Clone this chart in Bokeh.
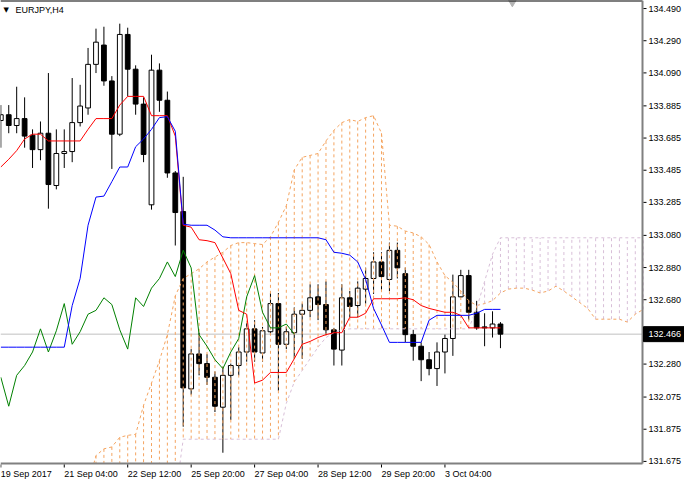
import math
from bokeh.plotting import figure
from bokeh.models import Range1d, Span, Label, ColumnDataSource
from bokeh.core.properties import value
from bokeh.embed import file_html
from bokeh.resources import INLINE

symbol = "EURJPY,H4"

# H4 candles (bar index 0 = first visible bar)
opens = [133.794, 133.830, 133.763, 133.806, 133.703, 133.613, 133.715, 133.390, 133.589, 133.601,
         133.781, 133.872, 134.143, 134.263, 134.040, 133.709, 134.329, 134.113, 133.896, 133.270,
         134.107, 133.920, 133.468, 133.228, 132.126, 132.343, 132.283, 132.198, 132.012, 132.210,
         132.271, 132.355, 132.499, 132.349, 132.481, 132.656, 132.403, 132.475, 132.590, 132.614,
         132.698, 132.650, 132.493, 132.367, 132.692, 132.644, 132.746, 132.812, 132.915, 132.806,
         132.987, 132.842, 132.463, 132.391, 132.307, 132.252, 132.355, 132.439, 132.698, 132.830,
         132.602, 132.511, 132.505, 132.529]
highs = [133.890, 133.890, 134.004, 133.938, 133.739, 133.788, 134.089, 133.739, 133.739, 134.058,
         134.016, 134.245, 134.365, 134.377, 134.070, 134.396, 134.371, 134.137, 133.938, 134.203,
         134.149, 133.974, 133.480, 133.444, 132.373, 132.475, 132.343, 132.234, 132.264, 132.283,
         132.385, 132.535, 132.553, 132.511, 132.722, 132.722, 132.511, 132.632, 132.656, 132.776,
         132.776, 132.794, 132.505, 132.776, 132.734, 132.794, 132.879, 132.975, 132.975, 133.035,
         133.035, 132.880, 132.493, 132.415, 132.355, 132.415, 132.463, 132.836, 132.866, 132.866,
         132.673, 132.596, 132.608, 132.541]
lows = [133.625, 133.715, 133.715, 133.625, 133.499, 133.547, 133.246, 133.366, 133.499, 133.535,
        133.757, 133.830, 134.089, 134.010, 133.493, 133.697, 133.944, 133.830, 133.535, 133.240,
        133.848, 133.438, 133.017, 131.891, 132.090, 132.210, 132.150, 131.982, 131.729, 131.933,
        132.210, 132.295, 132.295, 132.295, 132.463, 132.114, 132.373, 132.313, 132.313, 132.571,
        132.553, 132.463, 132.271, 132.271, 132.571, 132.571, 132.656, 132.716, 132.734, 132.734,
        132.812, 132.415, 132.301, 132.174, 132.210, 132.144, 132.222, 132.331, 132.692, 132.553,
        132.493, 132.391, 132.445, 132.379]
closes = [133.830, 133.763, 133.806, 133.697, 133.613, 133.715, 133.396, 133.589, 133.601, 133.781,
          133.884, 134.143, 134.281, 134.040, 133.709, 134.329, 134.113, 133.896, 133.583, 134.107,
          133.920, 133.468, 133.222, 132.132, 132.343, 132.283, 132.198, 132.018, 132.210, 132.271,
          132.355, 132.499, 132.355, 132.487, 132.656, 132.403, 132.481, 132.590, 132.614, 132.692,
          132.650, 132.493, 132.373, 132.692, 132.638, 132.752, 132.812, 132.915, 132.824, 132.987,
          132.878, 132.463, 132.391, 132.307, 132.252, 132.355, 132.439, 132.698, 132.830, 132.602,
          132.505, 132.505, 132.529, 132.466]

# Ichimoku lines
tenkan = [133.505, 133.553, 133.607, 133.679, 133.709, 133.709, 133.667, 133.667, 133.667, 133.667,
          133.667, 133.739, 133.806, 133.806, 133.806, 133.890, 133.944, 133.944, 133.944, 133.824,
          133.824, 133.824, 133.697, 133.143, 133.131, 133.053, 133.047, 133.035, 132.939, 132.842,
          132.614, 132.590, 132.162, 132.180, 132.228, 132.228, 132.228, 132.313, 132.403, 132.421,
          132.445, 132.463, 132.475, 132.475, 132.571, 132.571, 132.596, 132.686, 132.686, 132.686,
          132.686, 132.692, 132.680, 132.644, 132.626, 132.614, 132.602, 132.602, 132.583, 132.505,
          132.505, 132.505, 132.505, 132.505]
kijun = [132.385, 132.385, 132.385, 132.385, 132.385, 132.385, 132.385, 132.385, 132.385, 132.644,
         132.812, 133.143, 133.318, 133.324, 133.414, 133.505, 133.505, 133.631, 133.679, 133.739,
         133.812, 133.818, 133.727, 133.149, 133.143, 133.143, 133.143, 133.113, 133.071, 133.065,
         133.065, 133.065, 133.065, 133.065, 133.065, 133.065, 133.065, 133.065, 133.065, 133.065,
         133.065, 133.053, 132.975, 132.969, 132.957, 132.915, 132.806, 132.626, 132.523, 132.415,
         132.415, 132.415, 132.415, 132.415, 132.553, 132.583, 132.583, 132.583, 132.583, 132.583,
         132.596, 132.620, 132.620, 132.620]
chikou_shift = 26

# Senkou spans as displayed (first displayed bar = cloud_first_bar)
cloud_first_bar = 11
span_a = [131.530, 131.711, 131.753, 131.765, 131.825, 131.837, 131.843, 132.024, 132.162, 132.301,
          132.463, 132.704, 132.812, 132.842, 132.872, 132.915, 132.945, 132.975, 133.017, 133.035,
          133.035, 133.029, 133.023, 133.071, 133.161, 133.264, 133.487, 133.565, 133.577, 133.589,
          133.667, 133.733, 133.781, 133.800, 133.788, 133.812, 133.824, 133.715, 133.143, 133.137,
          133.107, 133.095, 133.071, 133.023, 132.915, 132.830, 132.788, 132.734, 132.674, 132.644,
          132.656, 132.674, 132.722, 132.746, 132.752, 132.752, 132.740, 132.722, 132.734, 132.764,
          132.734, 132.698, 132.662, 132.626, 132.559, 132.559, 132.559, 132.559, 132.541, 132.590,
          132.620]
span_b = [131.400, 131.400, 131.400, 131.400, 131.400, 131.400, 131.400, 131.400, 131.400, 131.400,
          131.400, 131.450, 131.813, 131.813, 131.813, 131.813, 131.813, 131.813, 131.813, 131.813,
          131.813, 131.813, 131.813, 131.813, 131.813, 132.036, 132.168, 132.240, 132.313, 132.385,
          132.445, 132.475, 132.493, 132.499, 132.499, 132.499, 132.499, 132.499, 132.499, 132.499,
          132.499, 132.499, 132.499, 132.499, 132.499, 132.499, 132.499, 132.499, 132.499, 132.626,
          132.794, 132.963, 133.065, 133.065, 133.065, 133.065, 133.065, 133.065, 133.065, 133.065,
          133.065, 133.065, 133.065, 133.065, 133.065, 133.065, 133.065, 133.065, 133.065, 133.065,
          133.065]

x_tick_bars = [0, 8, 16, 24, 32, 40, 48, 56]
x_tick_labels = ["19 Sep 2017", "21 Sep 04:00", "22 Sep 12:00", "25 Sep 20:00",
                 "27 Sep 04:00", "28 Sep 12:00", "29 Sep 20:00", "3 Oct 04:00"]
y_tick_values = [134.490, 134.290, 134.090, 133.885, 133.685, 133.485, 133.285, 133.080,
                 132.880, 132.680, 132.280, 132.075, 131.875, 131.675]

FONT = "Liberation Sans"
ORANGE = "#F4A460"
THISTLE = "#D8BFD8"
AXIS_GREY = "#808080"

# chart area (price window) and its size in pixels
x_start, x_end = -0.04, 80.91
y_start, y_end = 131.662, 134.540
W, H = 684, 483            # figure size
CW, CH = 642, 463          # chart area inside it (axes drawn to the right / below)
px_x = (x_end - x_start) / CW
px_y = (y_end - y_start) / CH
full_x_end = x_start + W * px_x
full_y_start = y_end - H * px_y

p = figure(width=W, height=H,
           x_range=Range1d(x_start, full_x_end), y_range=Range1d(full_y_start, y_end),
           output_backend="svg", toolbar_location=None, title=None,
           x_axis_type=None, y_axis_type=None,
           min_border_left=0, min_border_top=0, min_border_right=0, min_border_bottom=0)
p.grid.visible = False
p.outline_line_color = None
p.background_fill_color = "white"
p.border_fill_color = "white"


def clip_floor(xs, ys, floor):
    """Cut a polyline where it goes below the chart bottom."""
    ox, oy = [], []
    for i in range(len(xs)):
        inside = ys[i] >= floor
        if i > 0 and (ys[i - 1] >= floor) != inside:
            t = (floor - ys[i - 1]) / (ys[i] - ys[i - 1])
            ox.append(xs[i - 1] + t * (xs[i] - xs[i - 1]))
            oy.append(floor)
        if inside:
            ox.append(xs[i]); oy.append(ys[i])
        else:
            ox.append(math.nan); oy.append(math.nan)
    return ox, oy


# current price line
last = closes[-1]
p.segment(x0=[x_start], y0=[last], x1=[x_end], y1=[last], line_color="#C0C0C0", line_width=1)

# candles
bars = list(range(len(closes)))
src = ColumnDataSource(dict(
    x=bars, low=lows, high=highs,
    top=[max(o, c) for o, c in zip(opens, closes)],
    bottom=[min(o, c) for o, c in zip(opens, closes)],
    fill=["white" if c >= o else "black" for o, c in zip(opens, closes)],
))
p.segment(x0="x", y0="low", x1="x", y1="high", line_color="black", line_width=1, source=src)
p.vbar(x="x", width=0.6, top="top", bottom="bottom", fill_color="fill", line_color="black",
       line_width=1, source=src)

# cloud hatch (vertical dotted bars between span A and span B)
cloud_bars = list(range(cloud_first_bar, cloud_first_bar + len(span_a)))
hx, ha, hb, hc = [], [], [], []
for x, a, b in zip(cloud_bars, span_a, span_b):
    if max(a, b) <= y_start:
        continue
    hx.append(x); ha.append(max(a, y_start)); hb.append(max(b, y_start))
    hc.append(ORANGE if a >= b else THISTLE)
p.segment(x0=hx, y0=ha, x1=hx, y1=hb, line_color=hc, line_width=1, line_dash="3 3")
ax_, ay_ = clip_floor(cloud_bars, span_a, y_start)
bx_, by_ = clip_floor(cloud_bars, span_b, y_start)
p.line(ax_, ay_, line_color=ORANGE, line_width=1, line_dash="3 3")
p.line(bx_, by_, line_color=THISTLE, line_width=1, line_dash="3 3")

# chikou, tenkan, kijun
p.line(bars[:-chikou_shift], closes[chikou_shift:], line_color="#008000", line_width=1)
p.line(bars, tenkan, line_color="#FF0000", line_width=1)
p.line(bars, kijun, line_color="#0000FF", line_width=1)

# chart shift marker
p.scatter([len(closes) + 0.5], [y_end], marker="inverted_triangle", size=11,
          fill_color="#B4B4B4", line_color="#B4B4B4")

# frame: top border, right price axis, bottom time axis
p.segment(x0=[x_start], y0=[y_end], x1=[x_end], y1=[y_end], line_color="black", line_width=2)
p.segment(x0=[x_end], y0=[y_start], x1=[x_end], y1=[y_end], line_color=AXIS_GREY, line_width=2)
p.segment(x0=[x_start], y0=[y_start], x1=[x_end], y1=[y_start], line_color=AXIS_GREY, line_width=2)

# price ticks and labels
p.segment(x0=[x_end + 1 * px_x] * len(y_tick_values), y0=y_tick_values,
          x1=[x_end + 4 * px_x] * len(y_tick_values), y1=y_tick_values,
          line_color="black", line_width=1)
p.text(x=[x_end + 6 * px_x] * len(y_tick_values), y=y_tick_values,
       text=[f"{v:.3f}" for v in y_tick_values],
       text_font=value(FONT), text_font_size="9px", text_color="black",
       text_align="left", text_baseline="middle")

# time ticks and labels (left-aligned at their tick)
p.segment(x0=x_tick_bars, y0=[y_start - 1 * px_y] * len(x_tick_bars),
          x1=x_tick_bars, y1=[y_start - 4 * px_y] * len(x_tick_bars),
          line_color="black", line_width=1)
p.text(x=x_tick_bars, y=[y_start - 10.5 * px_y] * len(x_tick_bars), text=x_tick_labels,
       text_font=value(FONT), text_font_size="9px", text_color="black",
       text_align="left", text_baseline="middle")

# last price box on the price axis
p.quad(left=[x_end + 1 * px_x], right=[full_x_end], top=[last + 7.5 * px_y],
       bottom=[last - 7.5 * px_y], fill_color="black", line_color="black")
p.text(x=[x_end + 6 * px_x], y=[last], text=[f"{last:.3f}"],
       text_font=value(FONT), text_font_size="9px", text_color="white",
       text_align="left", text_baseline="middle")

# symbol caption
p.add_layout(Label(x=3, y=y_end, x_units="screen", y_units="data", y_offset=-9, text="\u25BC",
                   text_font="DejaVu Sans", text_font_size="7px", text_color="black",
                   text_baseline="middle"))
p.add_layout(Label(x=15, y=y_end, x_units="screen", y_units="data", y_offset=-9, text=symbol,
                   text_font=FONT, text_font_size="9px", text_color="black",
                   text_baseline="middle"))

open("out.html", "w").write(file_html(p, INLINE))
